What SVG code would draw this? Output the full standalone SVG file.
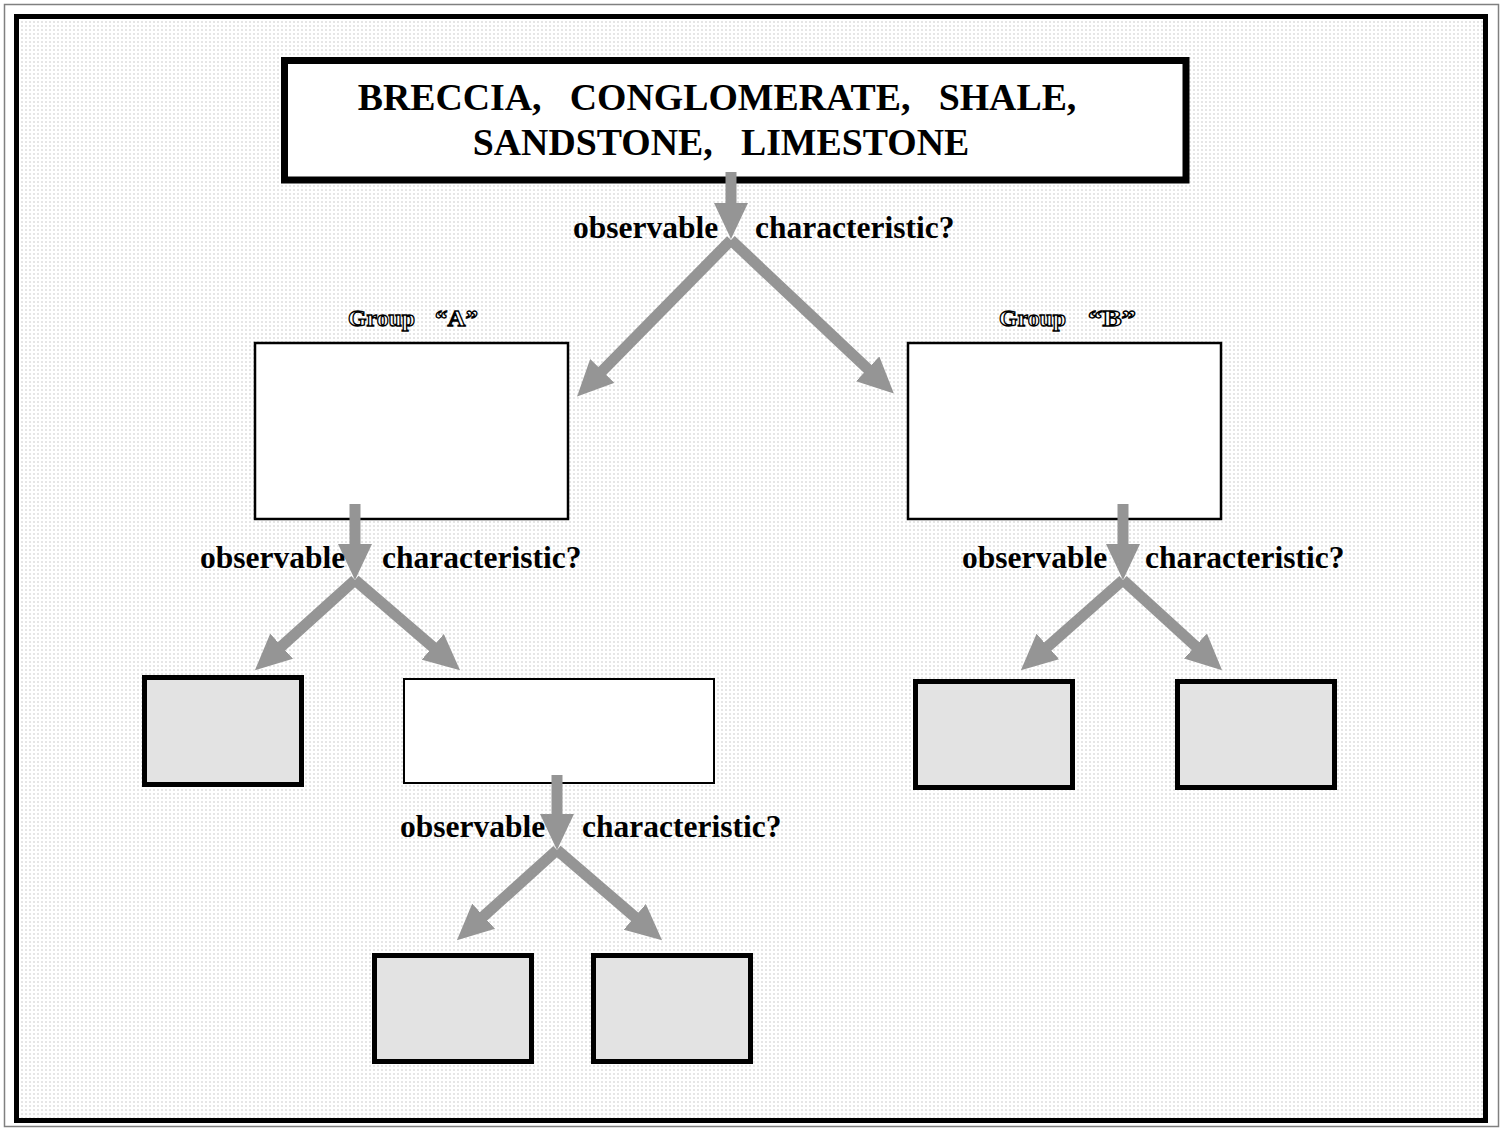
<svg xmlns="http://www.w3.org/2000/svg" width="1504" height="1129" viewBox="0 0 1504 1129">
<defs>
<pattern id="dots" x="0" y="0" width="4" height="4" patternUnits="userSpaceOnUse">
<rect width="4" height="4" fill="#ffffff"/>
<rect x="1" y="1" width="2" height="2" fill="#e6e6e6"/>
</pattern>
<marker id="ah" viewBox="0 0 36 34" refX="1" refY="17" markerWidth="36" markerHeight="34" markerUnits="userSpaceOnUse" orient="auto">
<path d="M0,0 L36,17 L0,34 Z" fill="#959595"/>
</marker>
<style>
.q{font-family:"Liberation Serif","Times New Roman",serif;font-weight:bold;font-size:31.5px;fill:#000}
.t{font-family:"Liberation Serif","Times New Roman",serif;font-weight:bold;font-size:37.8px;fill:#000;white-space:pre}
.g{font-family:"Liberation Serif","Times New Roman",serif;font-weight:bold;font-size:24px;fill:#fff;stroke:#000;stroke-width:1.3}
.white{fill:#fff;stroke:#000;stroke-width:2.5}
.gray{fill:#e3e3e3;stroke:#000;stroke-width:5}
.arr{stroke:#959595;stroke-width:11;fill:none;marker-end:url(#ah)}
</style>
</defs>
<rect x="0" y="0" width="1504" height="1129" fill="#fff"/>
<rect x="4.5" y="4.5" width="1494" height="1122" fill="none" stroke="#808080" stroke-width="1.5"/>
<rect x="16.5" y="16.5" width="1469" height="1104" fill="url(#dots)" stroke="#000" stroke-width="5"/>

<g id="title">
<rect x="284.5" y="60.5" width="901.5" height="119.5" fill="#fff" stroke="#000" stroke-width="7"/>
<text class="t" x="717" y="110" text-anchor="middle">BRECCIA,   CONGLOMERATE,   SHALE,</text>
<text class="t" x="721" y="155" text-anchor="middle">SANDSTONE,   LIMESTONE</text>
</g>

<g id="groupA">
<text class="g" x="348" y="326" textLength="67" lengthAdjust="spacingAndGlyphs">Group</text>
<text class="g" x="435" y="326" textLength="43" lengthAdjust="spacingAndGlyphs">“A”</text>
<rect class="white" x="255" y="343" width="313" height="176"/>
</g>
<g id="groupB">
<text class="g" x="999" y="326" textLength="67" lengthAdjust="spacingAndGlyphs">Group</text>
<text class="g" x="1088" y="326" textLength="48" lengthAdjust="spacingAndGlyphs">“B”</text>
<rect class="white" x="908" y="343" width="313" height="176"/>
</g>

<g id="boxA1"><rect class="gray" x="144.5" y="677.5" width="157" height="107"/></g>
<g id="boxA2"><rect x="404" y="679" width="310" height="104" fill="#fff" stroke="#000" stroke-width="2"/></g>
<g id="boxB1"><rect class="gray" x="915.5" y="681.5" width="157" height="106"/></g>
<g id="boxB2"><rect class="gray" x="1177.5" y="681.5" width="157" height="106"/></g>
<g id="boxC1"><rect class="gray" x="374.5" y="955.5" width="157" height="106"/></g>
<g id="boxC2"><rect class="gray" x="593.5" y="955.5" width="157" height="106"/></g>

<g id="connectors">
<line class="arr" x1="731" y1="172" x2="731" y2="204"/>
<line class="arr" x1="731" y1="240" x2="601.6" y2="371.6"/>
<line class="arr" x1="731" y1="240" x2="868.4" y2="369.5"/>

<line class="arr" x1="355" y1="504" x2="355" y2="545"/>
<line class="arr" x1="355" y1="580" x2="280.9" y2="646.9"/>
<line class="arr" x1="355" y1="580" x2="433.5" y2="647.5"/>

<line class="arr" x1="1123" y1="504" x2="1123" y2="545"/>
<line class="arr" x1="1123" y1="580" x2="1047.1" y2="647.1"/>
<line class="arr" x1="1123" y1="580" x2="1196.2" y2="646.7"/>

<line class="arr" x1="557" y1="775" x2="557" y2="815"/>
<line class="arr" x1="557" y1="850" x2="482.9" y2="916.9"/>
<line class="arr" x1="557" y1="850" x2="635.5" y2="917.5"/>
</g>

<g id="labels">
<text class="q" x="573" y="238">observable</text>
<text class="q" x="755" y="238">characteristic?</text>
<text class="q" x="200" y="568">observable</text>
<text class="q" x="382" y="568">characteristic?</text>
<text class="q" x="962" y="568">observable</text>
<text class="q" x="1145" y="568">characteristic?</text>
<text class="q" x="400" y="837">observable</text>
<text class="q" x="582" y="837">characteristic?</text>
</g>
</svg>
